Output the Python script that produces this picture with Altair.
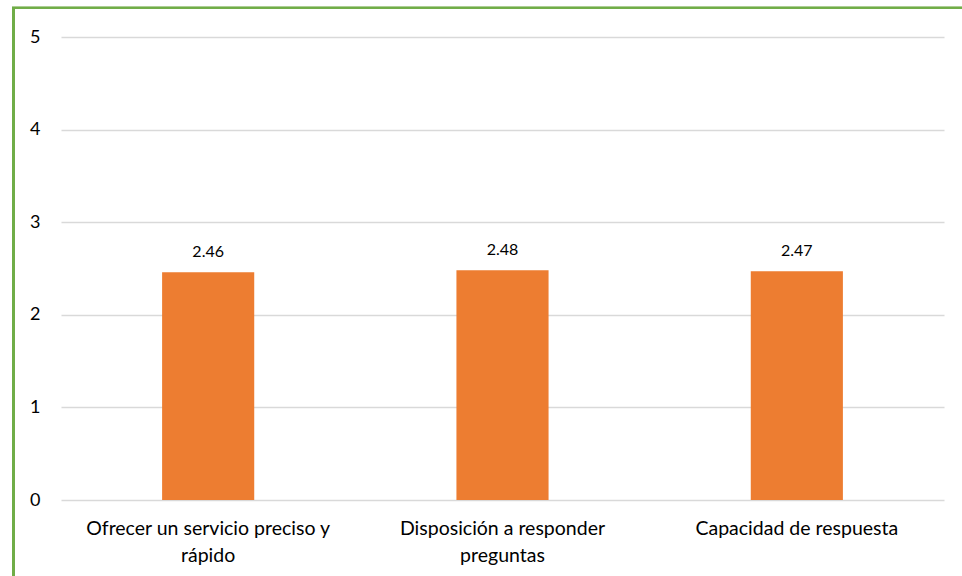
import altair as alt
import pandas as pd

# Survey dimension scores (mean on a 0-5 scale)
categories = [
    "Ofrecer un servicio preciso y|rápido",
    "Disposición a responder|preguntas",
    "Capacidad de respuesta",
]
scores = [2.46, 2.48, 2.47]

df = pd.DataFrame({"dimension": categories, "score": scores})

FONT = "Lato"
BAR_COLOR = "#ED7D31"
FRAME_GREEN = "#70AD47"

x_enc = alt.X(
    "dimension:N",
    sort=categories,
    title=None,
    scale=alt.Scale(paddingInner=0.687, paddingOuter=0.3435),
    axis=alt.Axis(
        labelAngle=0,
        labelExpr="split(datum.label, '|')",
        labelFontSize=19.5,
        labelFont=FONT,
        labelColor="#000000",
        labelLineHeight=27,
        labelPadding=19,
        labelLimit=400,
        ticks=False,
        tickSize=0,
        domain=False,
    ),
)
y_enc = alt.Y(
    "score:Q",
    title=None,
    scale=alt.Scale(domain=[0, 5], nice=False),
    axis=alt.Axis(
        values=[0, 1, 2, 3, 4, 5],
        format="d",
        labelFontSize=18,
        labelFont=FONT,
        labelColor="#000000",
        labelPadding=21,
        ticks=False,
        tickSize=0,
        domain=False,
        gridColor="#D9D9D9",
        gridWidth=1.5,
    ),
)

bars = alt.Chart(df).mark_bar(color=BAR_COLOR).encode(x=x_enc, y=y_enc)

labels = alt.Chart(df).mark_text(
    baseline="bottom", dy=-12, fontSize=16, font=FONT, color="#000000"
).encode(
    x=alt.X("dimension:N", sort=categories),
    y="score:Q",
    text=alt.Text("score:Q", format=".2f"),
)

# Green frame around the figure (left and top edges)
frame_left = alt.Chart(df).mark_rule(
    color=FRAME_GREEN, strokeWidth=3, clip=False
).encode(x=alt.value(-47.5), y=alt.value(-29.2), y2=alt.value(560))
frame_top = alt.Chart(df).mark_rule(
    color=FRAME_GREEN, strokeWidth=2, clip=False
).encode(y=alt.value(-29.2), x=alt.value(-49), x2=alt.value(920))

chart = (
    alt.layer(bars, labels, frame_left, frame_top)
    .properties(
        width=883,
        height=463,
        autosize=alt.AutoSizeParams(type="none"),
        padding={"left": 61, "top": 37, "right": 18, "bottom": 76},
        background="#FFFFFF",
    )
    .configure_view(stroke=None)
)

chart.save("out.html", embed_options={"renderer": "svg", "actions": False})
